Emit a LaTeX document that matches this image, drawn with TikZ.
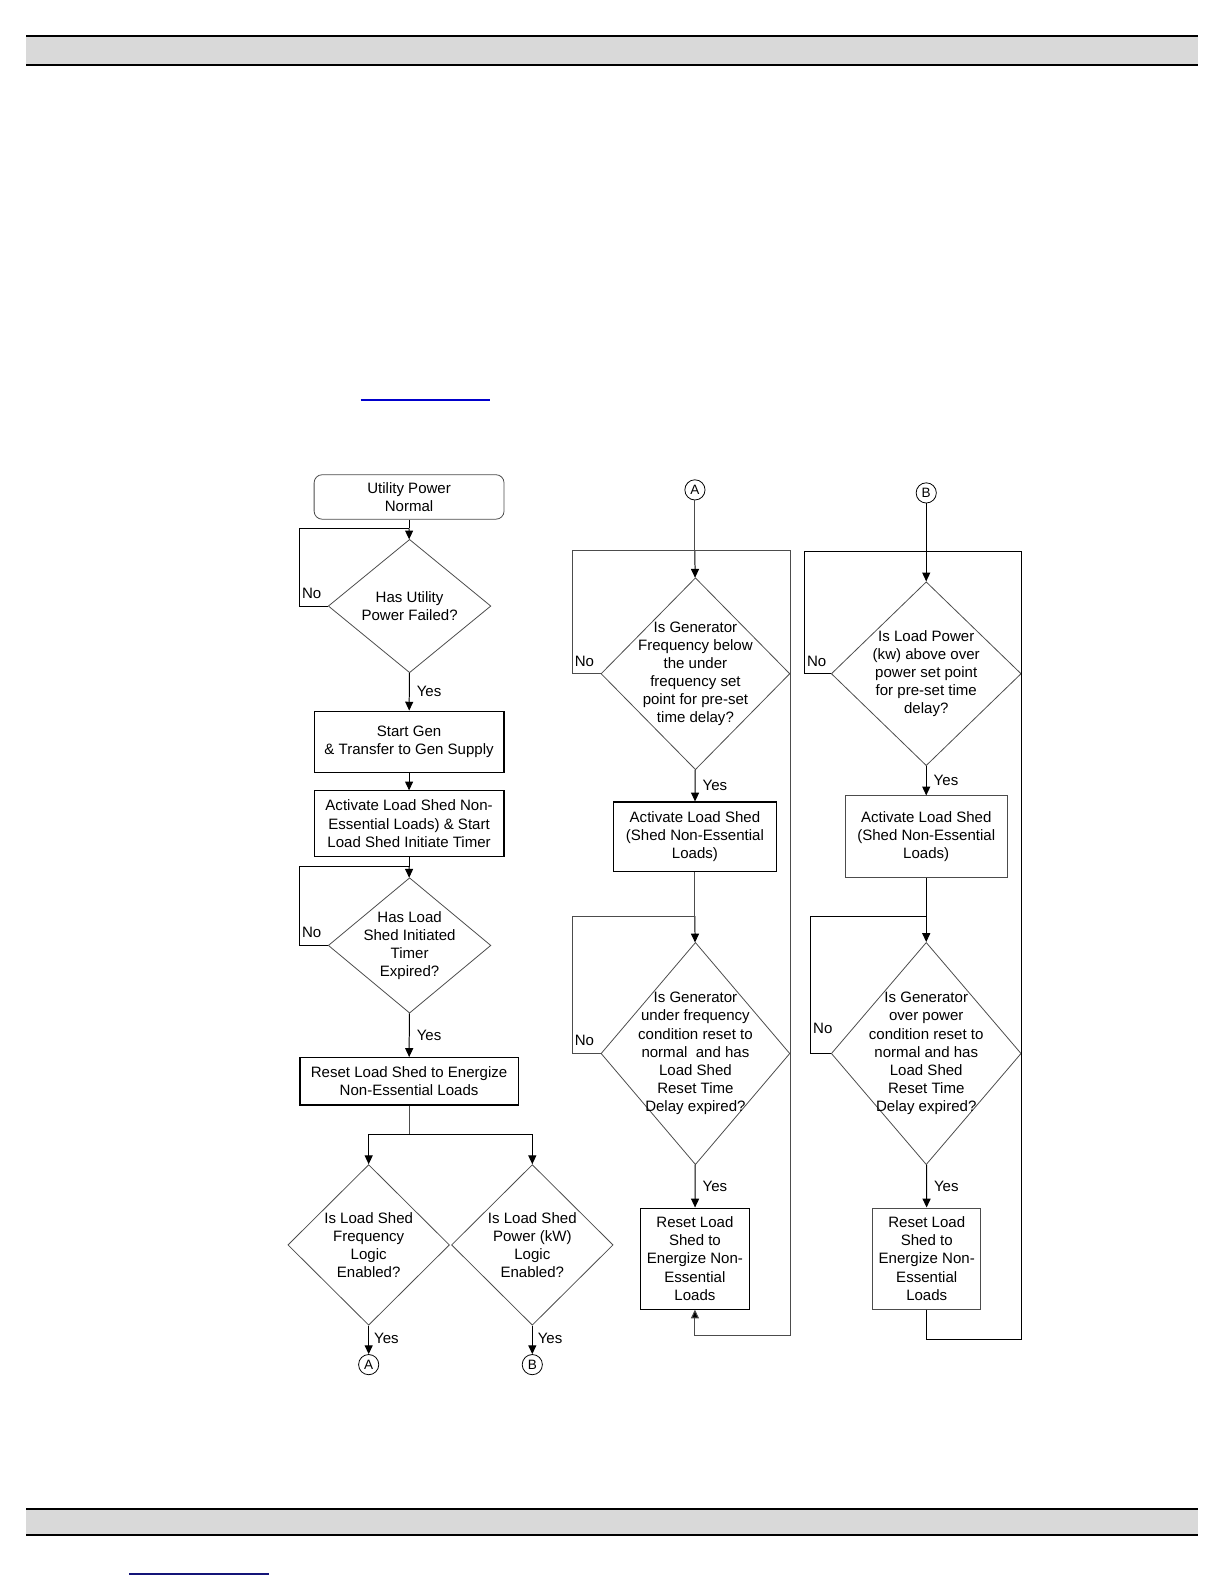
\documentclass[tikz,border=0pt]{standalone}
\usepackage{fontspec}
\setmainfont{Liberation Sans}
\usetikzlibrary{shapes.geometric,arrows.meta,calc}
\definecolor{linkblue}{RGB}{0,0,204}
\definecolor{linknavy}{RGB}{20,20,120}
\colorlet{barfill}{gray!30}
\colorlet{edge}{gray!60!black}
\newcommand\pxu{0.50505bp}
\tikzset{
  every node/.style = {font=\fontsize{7.55}{9.1}\selectfont},
  qtext/.style = {align=center, inner sep=0pt},
  startbox/.style = {draw=edge, rounded corners=4bp, align=center, inner sep=0pt},
  actbox/.style = {draw, line width=0.55pt, align=center, inner sep=0pt},
  decision/.style = {diamond, draw=edge, line width=0.4pt, inner sep=0pt},
  conn/.style = {circle, draw, line width=0.4pt, minimum size=20*\pxu, inner sep=0pt, font=\fontsize{6.8}{7}\selectfont},
  line/.style = {draw, line width=0.5pt},
  gline/.style = {draw=edge, line width=0.5pt},
  arr/.style = {line, -{Triangle[length=4.4bp,width=4bp]}},
  yes/.style = {right, inner sep=3.5bp},
  no/.style = {above right, inner sep=1bp, yshift=2.5bp},
  size/.style args = {#1x#2}{minimum width=#1*\pxu, minimum height=#2*\pxu}
}
\begin{document}
\begin{tikzpicture}[x=\pxu,y=-\pxu]
  \useasboundingbox (0,0) rectangle (1211.8,1568.2);
  % page header and footer bars
  \fill[barfill] (26,36) rectangle (1186,64);
  \draw[line width=1pt] (26,36) -- (1186,36) (26,64) -- (1186,64);
  \fill[barfill] (26,1494) rectangle (1186,1520);
  \draw[line width=1pt] (26,1494) -- (1186,1494) (26,1520) -- (1186,1520);
  \draw[linkblue, line width=1pt] (357,396) -- (485,396);
  \draw[linknavy, line width=1pt] (128,1558) -- (266,1558);

  % left column
  \node[startbox, size=188x44] (start) at (405,492) {Utility Power\\Normal};
  \node[decision, size=161x132, label={[qtext]center:{Has Utility\\Power Failed?}}] (d1) at (405.5,600) {};
  \node[actbox, size=188x61] (gen) at (405,734.5) {Start Gen\\\& Transfer to Gen Supply};
  \node[actbox, size=188x65] (shed) at (405,815.5) {Activate Load Shed Non-\\Essential Loads) \& Start\\Load Shed Initiate Timer};
  \node[decision, size=161x134, label={[qtext]center:{Has Load\\Shed Initiated\\Timer\\Expired?}}] (d2) at (405.5,936) {};
  \node[actbox, size=216x47] (reset) at (405,1070.5) {Reset Load Shed to Energize\\Non-Essential Loads};
  \node[decision, size=160x159, label={[qtext]center:{Is Load Shed\\Frequency\\Logic\\Enabled?}}] (dfreq) at (365,1232.5) {};
  \node[decision, size=160x159, label={[qtext]center:{Is Load Shed\\Power (kW)\\Logic\\Enabled?}}] (dpow) at (527,1232.5) {};
  \node[conn] (outA) at (365,1351) {A};
  \node[conn] (outB) at (527,1351) {B};

  \coordinate (j1) at (405,523);
  \coordinate (j2) at (405,858);
  \coordinate (j3) at (405,1123);
  \draw[line] (start) -- (j1);
  \draw[arr] (j1) -- (d1);
  \draw[line] (d1.west) -- ++(-28,0) node[no] {No} |- (j1);
  \draw[arr] (d1) -- node[yes] {Yes} (gen);
  \draw[arr] (gen) -- (shed);
  \draw[line] (shed) -- (j2);
  \draw[arr] (j2) -- (d2);
  \draw[line] (d2.west) -- ++(-28,0) node[no] {No} |- (j2);
  \draw[arr] (d2) -- node[yes] {Yes} (reset);
  \draw[gline] (reset) -- (j3);
  \draw[arr] (j3) -| (dfreq.north);
  \draw[arr] (j3) -| (dpow.north);
  \draw[arr] (dfreq) -- node[yes, pos=0.45, inner sep=2.5bp] {Yes} (outA);
  \draw[arr] (dpow) -- node[yes, pos=0.45, inner sep=2.5bp] {Yes} (outB);

  % middle column: under frequency
  \node[conn] (inA) at (688,485) {A};
  \node[decision, size=187x190, label={[qtext]center:{Is Generator\\Frequency below\\the under\\frequency set\\point for pre-set\\time delay?}}] (fq1) at (688.5,667) {};
  \node[actbox, size=162x69] (fshed) at (688,828.5) {Activate Load Shed\\(Shed Non-Essential\\Loads)};
  \node[decision, size=187x220, label={[qtext]center:{Is Generator\\under frequency\\condition reset to\\normal\ \ and has\\Load Shed\\Reset Time\\Delay expired?}}] (fq2) at (688.5,1043) {};
  \node[actbox, size=108x100] (freset) at (688,1246) {Reset Load\\Shed to\\Energize Non-\\Essential\\Loads};

  \coordinate (fj1) at (688,545);
  \coordinate (fj2) at (688,907);
  \draw[gline] (inA) -- (fj1);
  \draw[arr] (fj1) -- (fq1);
  \draw[gline] (fq1.west) -- ++(-28,0) node[no] {No} |- (fj1);
  \draw[arr] (fq1) -- node[yes] {Yes} (fshed);
  \draw[gline] (fshed) -- (fj2);
  \draw[arr] (fj2) -- (fq2);
  \draw[gline] (fq2.west) -- ++(-28,0) node[no] {No} |- (fj2);
  \draw[arr] (fq2) -- node[yes] {Yes} (freset);
  \draw[gline, {Triangle[length=4.4bp,width=4bp,fill=black]}-] (freset.south) -- ++(0,26) -| (fq1.east |- fj1) -- (fj1);

  % right column: over power
  \node[conn] (inB) at (917,488) {B};
  \node[decision, size=188x182, label={[qtext]center:{Is Load Power\\(kw) above over\\power set point\\for pre-set time\\delay?}}] (pw1) at (917,667) {};
  \node[actbox, draw=edge, size=160x81] (pshed) at (917,828.5) {Activate Load Shed\\(Shed Non-Essential\\Loads)};
  \node[decision, size=188x220, label={[qtext]center:{Is Generator\\over power\\condition reset to\\normal and has\\Load Shed\\Reset Time\\Delay expired?}}] (pw2) at (917,1043) {};
  \node[actbox, draw=edge, size=107x100] (preset) at (917.5,1246) {Reset Load\\Shed to\\Energize Non-\\Essential\\Loads};

  \coordinate (pj1) at (917,546);
  \coordinate (pj2) at (917,907);
  \draw[line] (inB) -- (pj1);
  \draw[arr] (pj1) -- (pw1);
  \draw[line] (pw1.west) -- ++(-26,0) node[no] {No} |- (pj1);
  \draw[arr] (pw1) -- node[yes] {Yes} (pshed);
  \draw[line] (pshed) -- (pj2);
  \draw[arr] (pj2) -- (pw2);
  \draw[line] (pw2.west) -- ++(-20,0) node[no, yshift=6bp] {No} |- (pj2);
  \draw[arr] (pw2) -- node[yes] {Yes} (preset);
  \draw[line] (preset.south) -- ++(0,30) -| (pw1.east |- pj1) -- (pj1);
\end{tikzpicture}
\end{document}
